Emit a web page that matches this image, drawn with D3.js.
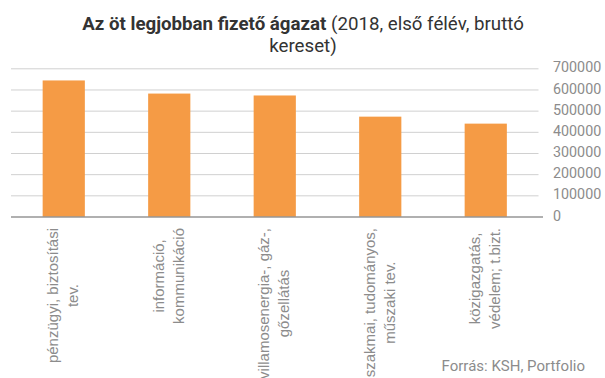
<!DOCTYPE html>
<html><head><meta charset="utf-8">
<script src="https://cdn.jsdelivr.net/npm/d3@7"></script>
<style>body{margin:0;background:#fff;} svg{display:block;font-family:Roboto,sans-serif;}</style>
</head><body>
<svg id="c" width="605" height="378"></svg>
<script>
const categories = [
  ["pénzügyi, biztosítási", "tev."],
  ["információ,", "kommunikáció"],
  ["villamosenergia-, gáz-,", "gőzellátás"],
  ["szakmai, tudományos,", "műszaki tev."],
  ["közigazgatás,", "védelem; t.bizt."]
];
const values = [645000, 583000, 574000, 474000, 441000];
const yTicks = [0, 100000, 200000, 300000, 400000, 500000, 600000, 700000];

const svg = d3.select("#c");
const x = d3.scaleBand().domain(d3.range(categories.length)).range([11, 538.5]).paddingInner(0.6).paddingOuter(0.3);
const y = d3.scaleLinear().domain([0, 700000]).range([217, 68.8]);

// gridlines
svg.append("g").selectAll("line").data(yTicks.filter(d => d > 0)).join("line")
  .attr("x1", 11).attr("x2", 538.5)
  .attr("y1", d => y(d)).attr("y2", d => y(d))
  .attr("stroke", "#d0d0d0").attr("stroke-width", 1);

// bars
svg.append("g").selectAll("rect").data(values).join("rect")
  .attr("x", (d, i) => x(i)).attr("width", x.bandwidth())
  .attr("y", d => y(d)).attr("height", d => y(0) - y(d))
  .attr("fill", "#F59B45");

// axis line
svg.append("line").attr("x1", 11).attr("x2", 543).attr("y1", y(0)).attr("y2", y(0))
  .attr("stroke", "#969696").attr("stroke-width", 1.5);

// y labels
const yAxis = d3.axisRight(y).tickValues(yTicks).tickSize(0).tickPadding(0).tickFormat(d3.format("d"));
const ya = svg.append("g").attr("transform", "translate(553,-1.5)").call(yAxis);
ya.select(".domain").remove();
ya.selectAll("text").attr("font-family", "Roboto").attr("font-size", 14.3).attr("fill", "#8c8c8c").attr("text-anchor", "start");

// x labels
const labelTop = 228;
const lineGap = 20;
categories.forEach((lines, i) => {
  const cx = x(i) + x.bandwidth() / 2;
  const g = svg.append("g");
  const texts = lines.map((t, j) => g.append("text").text(t)
    .attr("font-family", "'Liberation Sans', Arial, sans-serif")
    .attr("font-size", 15).attr("fill", "#8c8c8c").attr("text-anchor", "middle"));
  const maxW = d3.max(texts, t => t.node().getComputedTextLength());
  const n = lines.length;
  texts.forEach((t, j) => {
    const off = (j - (n - 1) / 2) * lineGap;
    const xx = cx + off + 4.5;
    const yy = labelTop + maxW / 2;
    t.attr("transform", `translate(${xx},${yy}) rotate(-90)`);
  });
});

// title
const title = svg.append("text").attr("x", 303).attr("y", 30).attr("text-anchor", "middle")
  .attr("font-size", 18.7).attr("fill", "#333");
title.append("tspan").attr("font-weight", "bold").text("Az öt legjobban fizető ágazat");
title.append("tspan").text(" (2018, első félév, bruttó");
svg.append("text").attr("x", 303).attr("y", 52.3).attr("text-anchor", "middle")
  .attr("font-size", 18.7).attr("fill", "#333").text("kereset)");

// source
svg.append("text").attr("x", 585).attr("y", 371).attr("text-anchor", "end")
  .attr("font-size", 15).attr("fill", "#8c8c8c").text("Forrás: KSH, Portfolio");
</script>
</body></html>
